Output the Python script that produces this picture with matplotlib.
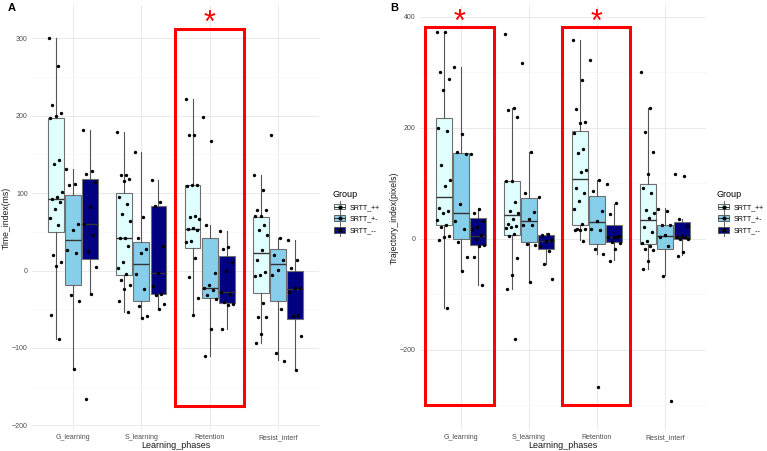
import numpy as np
import matplotlib
matplotlib.use("Agg")
import matplotlib.pyplot as plt
from matplotlib.patches import Rectangle, Patch
from matplotlib.lines import Line2D
from matplotlib.legend_handler import HandlerBase
from matplotlib.ticker import MultipleLocator

plt.rcParams['font.family'] = ['Liberation Sans', 'DejaVu Sans']

phases = ["G_learning", "S_learning", "Retention", "Resist_interf"]
groups = ["SRTT_++", "SRTT_+-", "SRTT_--"]
colors = ["#E0FFFF", "#87CEEB", "#000080"]

# box stats per phase: [whisker low, q1, median, q3, whisker high]
a_box_pp = [[-89, 50, 92, 197, 301], [-53, -6, 42, 100, 179], [-57, 29, 54, 110, 221], [-93, -29, 22, 69, 123]]
a_box_pm = [[-127, -19, 39, 97, 131], [-61, -40, 9, 37, 153], [-110, -35, -23, 42, 59], [-116, -40, 8, 28, 42]]
a_box_mm = [[-29, 15, 60, 118, 181], [-50, -30, -3, 83, 117], [-76, -42, -28, 19, 51], [-128, -63, -24, -1, 40]]

b_box_pp = [[-125, 24, 75, 217, 372], [-90, 6, 42, 104, 236], [-3, 24, 107, 194, 358], [-54, -10, 34, 98, 235]]
b_box_pm = [[-56, 0, 47, 154, 309], [-79, -7, 32, 73, 156], [-27, -9, 29, 77, 105], [-66, -18, 5, 25, 55]]
b_box_mm = [[-83, -12, 5, 38, 54], [-45, -19, -4, 6, 10], [-39, -7, 2, 24, 63], [-29, -1, 2, 29, 35]]

# individual subjects (Time_index, ms)
a_pts_pp = [[301, 264, 214, 204, 200, 197, 143, 138, 102, 95, 92, 88, 79, 68, 59, 20, 11, 6, -58, -89],
            [179, 124, 123, 118, 116, 95, 86, 73, 64, 42, 42, 32, 11, 3, -4, -12, -19, -24, -39, -53],
            [221, 175, 175, 110, 110, 109, 70, 69, 66, 55, 54, 52, 38, 37, 16, -9, -35, -57],
            [123, 104, 78, 78, 70, 70, 59, 52, 46, 27, 13, -2, -6, -7, -42, -60, -60, -82, -93]]
a_pts_pm = [[131, 112, 111, 60, 52, 27, 22, -32, -39, -127],
            [153, 69, 42, 28, 23, -4, -24, -46, -59, -61],
            [198, 167, 59, -3, -19, -22, -25, -31, -37, -76, -110],
            [175, 42, 20, 14, 1, -6, -50, -106, -117]]
a_pts_mm = [[182, 129, 125, 115, 82, 60, 46, 25, 4, -30, -166],
            [117, 89, 83, 32, -3, -20, -30, -31, -43, -50],
            [51, 30, 28, 11, 0, -28, -30, -41, -43, -45, -76],
            [40, 13, 3, -23, -23, -28, -57, -59, -84, -129]]

# individual subjects (Trajectory_index, pixels)
b_pts_pp = [[372, 372, 300, 287, 267, 199, 194, 132, 105, 95, 56, 50, 46, 33, 24, 21, 5, 2, -3, -125],
            [368, 236, 232, 219, 104, 104, 66, 50, 47, 36, 27, 22, 21, 19, 8, 4, -35, -65, -90, -181],
            [358, 285, 234, 211, 208, 191, 162, 155, 123, 120, 92, 82, 67, 54, 27, 18, 17, 16, 15, -5],
            [300, 235, 192, 156, 117, 91, 83, 51, 47, 38, 20, 12, -5, -8, -14, -18, -20, -40, -54]]
b_pts_pm = [[309, 188, 156, 153, 62, 32, 18, -6, -34, -58],
            [317, 156, 82, 48, 36, 24, 24, -9, -12, -78],
            [321, 105, 86, 49, 32, 17, 15, -18, -27, -268],
            [54, 50, 25, 25, 6, 2, -14, -67, -292]]
b_pts_mm = [[153, 54, 46, 31, 20, 17, 7, 0, -11, -14, -34, -83],
            [75, 8, 6, -3, -5, -14, -22, -45, -73],
            [99, 65, 45, 4, 2, 2, 2, -6, -8, -18, -40],
            [117, 112, 35, 23, 5, 2, 2, -1, -1, -25, -31]]

edge = "#707070"
grid_major = "#E6E6E6"
grid_minor = "#F3F3F3"


class BoxKey(HandlerBase):
    def create_artists(self, legend, handle, xdescent, ydescent, width, height, fontsize, trans):
        x0, y0 = -xdescent, -ydescent
        cx = x0 + width / 2
        vline = Line2D([cx, cx], [y0 - 1, y0 + height + 1], color="#4d4d4d", lw=0.6, transform=trans)
        box = Rectangle((x0 + 1, y0 + 1), width - 2, height - 2, facecolor=handle.get_facecolor(),
                        edgecolor="#4d4d4d", lw=0.6, transform=trans)
        med = Line2D([x0 + 1, x0 + width - 1], [y0 + height / 2] * 2, color="#333333", lw=0.7, transform=trans)
        dot = Line2D([cx], [y0 + height / 2], marker="o", ms=2.0, color="black", lw=0, transform=trans)
        return [vline, box, med, dot]


def draw_panel(ax, boxes, points, ylim, major, minor, ylabel, rects, star_y):
    offsets = [-0.25, 0.0, 0.25]
    for g in range(3):
        pos = [p + 1 + offsets[g] for p in range(4)]
        stats = [dict(whislo=b[0], q1=b[1], med=b[2], q3=b[3], whishi=b[4]) for b in boxes[g]]
        ax.bxp(stats, positions=pos, widths=0.23, patch_artist=True, showfliers=False, showcaps=False,
               boxprops=dict(facecolor=colors[g], edgecolor=edge, lw=0.8),
               medianprops=dict(color="#333333", lw=1.0),
               whiskerprops=dict(color="#555555", lw=0.8), zorder=2)
        for p in range(4):
            vals = np.array(points[g][p])
            jit = ((np.arange(len(vals)) * 0.618) % 1 - 0.5) * 0.2
            ax.scatter(pos[p] + jit, vals, s=6, color="black", lw=0, zorder=4)

    for x0, x1, y0, y1 in rects:
        ax.add_patch(Rectangle((x0, y0), x1 - x0, y1 - y0, fill=False, ec="#FF0000", lw=2.2, zorder=5))
        ax.text((x0 + x1) / 2, star_y, "*", color="#FF0000", fontsize=22, ha="center", va="center",
                zorder=6)

    ax.set_xlim(0.4, 4.6)
    ax.set_ylim(*ylim)
    ax.set_xticks(range(1, 5))
    ax.set_xticklabels(phases)
    ax.yaxis.set_major_locator(MultipleLocator(major))
    ax.yaxis.set_minor_locator(MultipleLocator(minor))
    ax.grid(True, which="major", color=grid_major, lw=0.6)
    ax.grid(True, which="minor", axis="y", color=grid_minor, lw=0.4)
    ax.set_axisbelow(True)
    for s in ax.spines.values():
        s.set_visible(False)
    ax.tick_params(which="both", length=0, labelsize=5, labelcolor="#4D4D4D", pad=3)
    ax.set_xlabel("Learning_phases", fontsize=6.5, color="#1a1a1a", labelpad=0)
    ax.set_ylabel(ylabel, fontsize=6.2, color="#1a1a1a", labelpad=1)

    handles = [Patch(facecolor=c, label=g) for c, g in zip(colors, groups)]
    return handles


fig = plt.figure(figsize=(7.67, 4.51), dpi=100)
ax_a = fig.add_axes([32 / 767, 21 / 451, 287 / 767, 425 / 451])
ax_b = fig.add_axes([420 / 767, 21 / 451, 286 / 767, 425 / 451])

h = draw_panel(ax_a, [a_box_pp, a_box_pm, a_box_mm], [a_pts_pp, a_pts_pm, a_pts_mm],
               (-206, 343), 100, 50, "Time_index(ms)", [(2.49, 3.5, -175, 312)], 318)
draw_panel(ax_b, [b_box_pp, b_box_pm, b_box_mm], [b_pts_pp, b_pts_pm, b_pts_mm],
           (-345, 421), 200, 100, "Trajectory_index(pixels)",
           [(0.47, 1.49, -300, 382), (2.49, 3.49, -300, 382)], 389)

for ax, x in [(ax_a, 326 / 767), (ax_b, 710 / 767)]:
    leg = fig.legend(handles=h, title="Group", loc="upper left", bbox_to_anchor=(x, 1 - 184 / 451),
                     bbox_transform=fig.transFigure, frameon=False, fontsize=5, title_fontsize=6.5,
                     handler_map={Patch: BoxKey()}, handlelength=2.1, handleheight=1.5,
                     handletextpad=0.4, labelspacing=0.45)
    leg._legend_box.align = "left"

fig.text(8 / 767, 1 - 3 / 451, "A", fontsize=8, fontweight="bold", va="top")
fig.text(390 / 767, 1 - 3 / 451, "B", fontsize=8, fontweight="bold", va="top")

fig.savefig("out.png", dpi=100)
